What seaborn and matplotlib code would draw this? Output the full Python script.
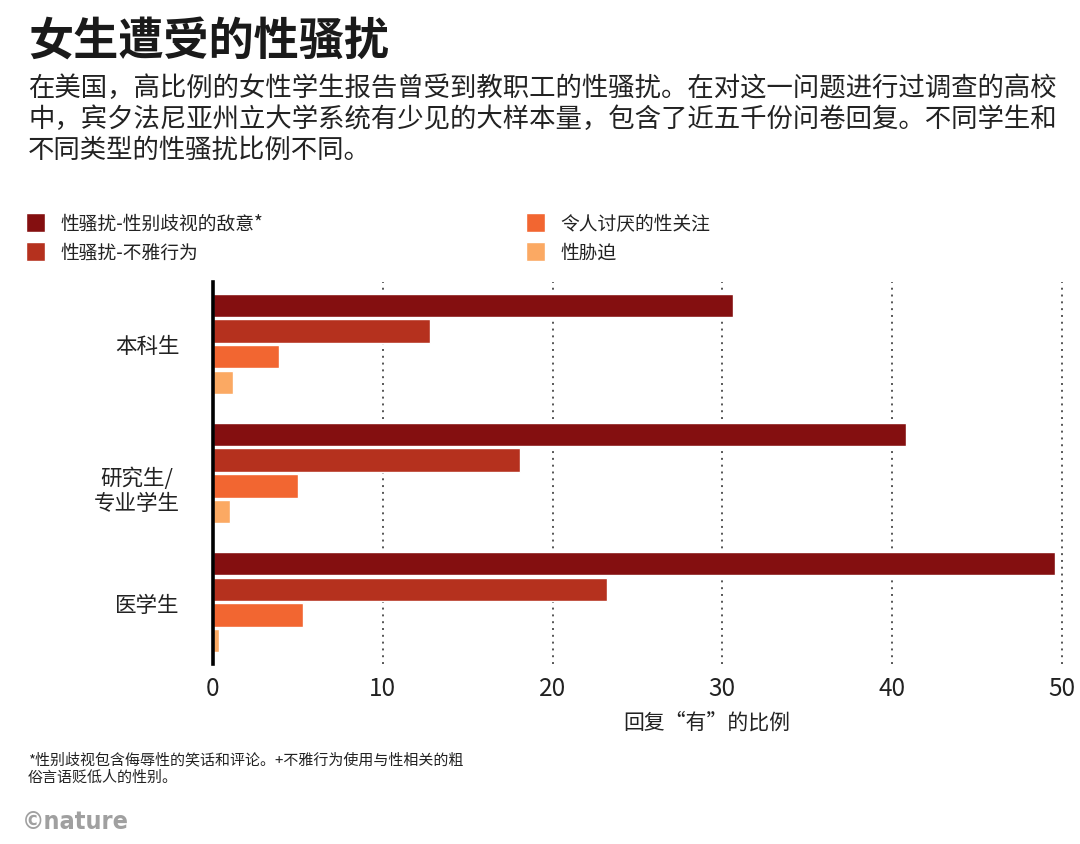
import matplotlib
matplotlib.use("Agg")
import matplotlib.pyplot as plt
from matplotlib.transforms import ScaledTranslation
import seaborn as sns
import pandas as pd

sns.set_style("white")
plt.rcParams["font.family"] = ["Noto Sans CJK SC", "DejaVu Sans"]

# Data
groups = ["本科生", "研究生/\n专业学生", "医学生"]
types = ["性骚扰-性别歧视的敌意*", "性骚扰-不雅行为", "令人讨厌的性关注", "性胁迫"]
hostility = [30.6, 40.8, 49.6]
crude = [12.8, 18.1, 23.2]
unwanted = [3.9, 5.0, 5.3]
coercion = [1.2, 1.0, 0.35]
palette = ["#840F10", "#B5311E", "#F26631", "#FBA963"]
xticks = [0, 10, 20, 30, 40, 50]

title = "女生遭受的性骚扰"
subtitle = [
    "在美国，高比例的女性学生报告曾受到教职工的性骚扰。在对这一问题进行过调查的高校",
    "中，宾夕法尼亚州立大学系统有少见的大样本量，包含了近五千份问卷回复。不同学生和",
    "不同类型的性骚扰比例不同。",
]
xlabel = "回复“有”的比例"
footnote = [
    "*性别歧视包含侮辱性的笑话和评论。+不雅行为使用与性相关的粗",
    "俗言语贬低人的性别。",
]

rows = []
for t, vals in zip(types, [hostility, crude, unwanted, coercion]):
    for g, v in zip(groups, vals):
        rows.append({"group": g, "type": t, "pct": v})
df = pd.DataFrame(rows)

fig = plt.figure(figsize=(10.8, 8.45), dpi=100)
ax = fig.add_axes([213 / 1080, 1 - 665 / 845, 854 / 1080, 382 / 845])

sns.barplot(data=df, y="group", x="pct", hue="type", hue_order=types,
            order=groups, palette=palette, orient="h", width=0.8, gap=0.1,
            saturation=1, ax=ax)

ax.set_xlim(0, 50.3)
ax.set_ylim(2.48, -0.48)
ax.set_xticks(xticks)
ax.set_xticklabels([str(t) for t in xticks], fontsize=17.5, color="#222222")
ax.tick_params(axis="x", length=0, pad=8)
ax.tick_params(axis="y", length=0, pad=24, labelsize=15.5, labelcolor="#222222")
for lbl in ax.get_yticklabels():
    lbl.set_multialignment("center")
    if "\n" in lbl.get_text():
        # the two-line label sits a little lower in the original
        lbl.set_transform(lbl.get_transform()
                          + ScaledTranslation(0, -0.13, fig.dpi_scale_trans))
ax.set_xlabel("")
ax.set_ylabel("")
ax.set_axisbelow(True)
ax.xaxis.grid(True, linestyle=(0, (1, 2.5)), color="#555555", linewidth=1.4)
ax.yaxis.grid(False)
for s in ["top", "right", "bottom"]:
    ax.spines[s].set_visible(False)
ax.spines["left"].set_color("black")
ax.spines["left"].set_linewidth(2.6)

handles, labels = ax.get_legend_handles_labels()
ax.get_legend().remove()
fig.legend(handles, labels, loc="upper left", bbox_to_anchor=(26 / 1080, 1 - 214 / 845),
           ncol=2, frameon=False, fontsize=13.5, borderaxespad=0, borderpad=0,
           handlelength=1.0, handleheight=1.2, handletextpad=0.85,
           labelspacing=0.4, columnspacing=14.0, labelcolor="#222222")

fig.text(28 / 1080, 1 - 42 / 845, title, fontsize=32.5, fontweight="bold",
         color="#1a1a1a", va="center")
for i, line in enumerate(subtitle):
    fig.text(28 / 1080, 1 - (88 + 31 * i) / 845, line, fontsize=19,
             color="#222222", va="center")

fig.text(707 / 1080, 1 - 723 / 845, xlabel, fontsize=15, color="#222222",
         ha="center", va="center")
for i, line in enumerate(footnote):
    fig.text(28 / 1080, 1 - (760 + 18 * i) / 845, line, fontsize=10.8,
             color="#222222", va="center")

fig.text(22 / 1080, 1 - 822 / 845, "©nature", fontsize=18, fontweight="bold",
         color="#a0a0a0", va="center", family="DejaVu Sans", stretch="condensed")

fig.savefig("out.png", dpi=100)
